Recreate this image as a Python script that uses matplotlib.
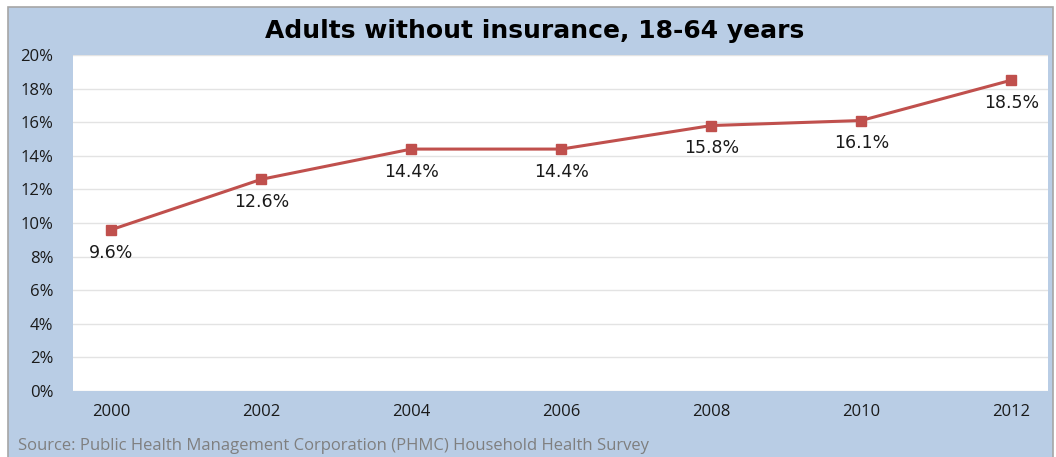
import matplotlib.pyplot as plt
from matplotlib.patches import Rectangle

years = [2000, 2002, 2004, 2006, 2008, 2010, 2012]
uninsured_pct = [9.6, 12.6, 14.4, 14.4, 15.8, 16.1, 18.5]
y_ticks = [0, 2, 4, 6, 8, 10, 12, 14, 16, 18, 20]

W, H = 1056, 457
fig = plt.figure(figsize=(W / 100, H / 100), dpi=100)
fig.patch.set_facecolor("white")

# blue panel behind the chart
bg = fig.add_axes([0, 0, 1, 1], zorder=-1)
bg.set_xlim(0, W)
bg.set_ylim(H, 0)
bg.axis("off")
bg.add_patch(Rectangle((8, 7), 1053 - 8, H - 7 + 5, facecolor="#B9CDE5",
                       edgecolor="#A6A6A6", linewidth=1.2))

left, right, top, bottom = 73, 1048, 55, 391
ax = fig.add_axes([left / W, 1 - bottom / H, (right - left) / W, (bottom - top) / H])
ax.set_facecolor("white")

ax.plot(years, uninsured_pct, color="#C0504D", linewidth=2.2, marker="s",
        markersize=7.5, markerfacecolor="#C0504D", markeredgecolor="#C0504D", zorder=3)

for x, v in zip(years, uninsured_pct):
    ax.annotate(f"{v}%", (x, v), xytext=(0, -10), textcoords="offset points",
                ha="center", va="top", fontsize=12.5, color="#1a1a1a",
                family="DejaVu Sans")

ax.set_xlim(1999.49, 2012.49)
ax.set_ylim(0, 20)
ax.set_yticks(y_ticks)
ax.set_yticklabels([f"{t}%" for t in y_ticks], family="Open Sans", fontsize=12)
ax.set_xticks(years)
ax.set_xticklabels([str(y) for y in years], family="Open Sans", fontsize=12)
ax.tick_params(axis="both", length=0, colors="#1a1a1a")
ax.tick_params(axis="y", pad=14)
ax.tick_params(axis="x", pad=9.5)
ax.grid(axis="y", color="#E3E3E3", linewidth=1.0)
ax.set_axisbelow(True)
for s in ax.spines.values():
    s.set_visible(False)

fig.text(535 / W, 1 - 31 / H, "Adults without insurance, 18-64 years", ha="center",
         va="center", fontsize=18, fontweight="bold", family="DejaVu Sans", color="black")
fig.text(18 / W, 1 - 446 / H, "Source: Public Health Management Corporation (PHMC) Household Health Survey",
         ha="left", va="center", fontsize=12, family="Open Sans", color="#7F7F7F")

fig.savefig("out.png", dpi=100)
